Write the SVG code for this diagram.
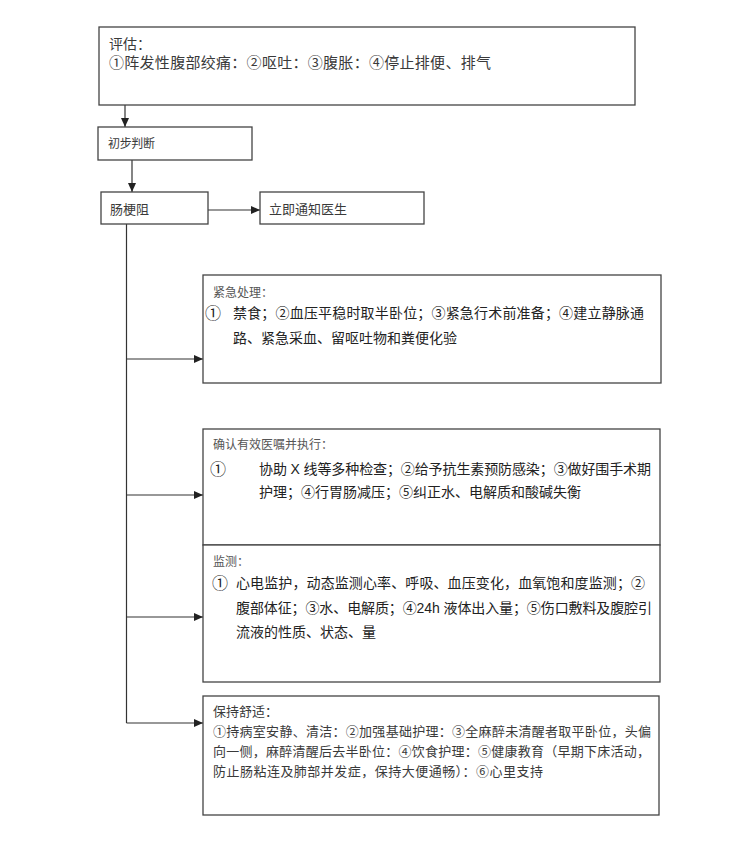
<svg xmlns="http://www.w3.org/2000/svg" width="729" height="841" viewBox="0 0 729 841">
<style>
.box{fill:#fff;stroke:#444;stroke-width:1.3}
.ln{fill:none;stroke:#333;stroke-width:1.2}
.sr{font-family:'Liberation Serif','Noto Sans CJK SC',serif;fill:#3a3a3a}
.ss{font-family:'Liberation Sans','Noto Sans CJK SC',sans-serif;fill:#222}
.t{font-size:12px;fill:#555}
.b{font-size:14px}
.num{font-size:16px}
</style>
<defs>
<marker id="ah" markerUnits="userSpaceOnUse" markerWidth="9" markerHeight="8" refX="9" refY="4" orient="auto">
<path d="M0,0 L9,4 L0,8 z" fill="#222"/>
</marker>
</defs>
<rect width="729" height="841" fill="#fff"/>
<g id="connectors">
<line class="ln" x1="125" y1="105" x2="125" y2="127" marker-end="url(#ah)"/>
<line class="ln" x1="132" y1="160" x2="132" y2="192" marker-end="url(#ah)"/>
<line class="ln" x1="208" y1="210" x2="260" y2="210" marker-end="url(#ah)"/>
<polyline class="ln" points="126.5,224 126.5,723"/>
<line class="ln" x1="126.5" y1="359" x2="203" y2="359" marker-end="url(#ah)"/>
<line class="ln" x1="126.5" y1="495" x2="203" y2="495" marker-end="url(#ah)"/>
<line class="ln" x1="126.5" y1="617" x2="203" y2="617" marker-end="url(#ah)"/>
<line class="ln" x1="126.5" y1="723" x2="203" y2="723" marker-end="url(#ah)"/>
</g>
<g id="assess">
<rect class="box" x="99" y="27" width="536" height="78"/>
<text class="sr" x="109" y="49" font-size="14">评估：</text>
<text class="sr" x="109" y="67.5" font-size="15" textLength="382" lengthAdjust="spacing">①阵发性腹部绞痛：②呕吐：③腹胀：④停止排便、排气</text>
</g>
<g id="judge">
<rect class="box" x="98" y="127" width="154" height="33"/>
<text class="sr" x="108" y="147.5" font-size="12" textLength="47" lengthAdjust="spacing">初步判断</text>
</g>
<g id="obstruction">
<rect class="box" x="101" y="192" width="107" height="32"/>
<text class="sr" x="110" y="214" font-size="13">肠梗阻</text>
</g>
<g id="notify">
<rect class="box" x="260" y="192" width="164" height="32"/>
<text class="sr" x="269" y="214" font-size="13">立即通知医生</text>
</g>
<g id="emergency">
<rect class="box" x="203" y="275" width="458" height="108"/>
<text class="sr t" x="213" y="296.5">紧急处理：</text>
<text class="ss num" x="205" y="318.5">①</text>
<text class="ss b" x="233" y="318" textLength="411" lengthAdjust="spacing">禁食；②血压平稳时取半卧位；③紧急行术前准备；④建立静脉通</text>
<text class="ss b" x="233" y="343">路、紧急采血、留呕吐物和粪便化验</text>
</g>
<g id="orders">
<rect class="box" x="203" y="429" width="457" height="116"/>
<text class="sr t" x="213" y="449">确认有效医嘱并执行：</text>
<text class="ss num" x="210" y="474.5">①</text>
<text class="ss b" x="259" y="474" textLength="392" lengthAdjust="spacing">协助 X 线等多种检查；②给予抗生素预防感染；③做好围手术期</text>
<text class="ss b" x="259" y="497">护理；④行胃肠减压；⑤纠正水、电解质和酸碱失衡</text>
</g>
<g id="monitor">
<rect class="box" x="203" y="545" width="457" height="137"/>
<text class="sr t" x="213" y="566">监测：</text>
<text class="ss num" x="212" y="588.5">①</text>
<text class="ss b" x="236" y="588" textLength="409" lengthAdjust="spacing">心电监护，动态监测心率、呼吸、血压变化，血氧饱和度监测；②</text>
<text class="ss b" x="236" y="613" textLength="416" lengthAdjust="spacing">腹部体征；③水、电解质；④24h 液体出入量；⑤伤口敷料及腹腔引</text>
<text class="ss b" x="236" y="637">流液的性质、状态、量</text>
</g>
<g id="comfort">
<rect class="box" x="203" y="696" width="456" height="119"/>
<text class="sr" x="213" y="716" font-size="13">保持舒适：</text>
<text class="sr" x="213" y="736" font-size="13" textLength="438" lengthAdjust="spacing">①持病室安静、清洁：②加强基础护理：③全麻醉未清醒者取平卧位，头偏</text>
<text class="sr" x="213" y="756" font-size="13" textLength="437" lengthAdjust="spacing">向一侧，麻醉清醒后去半卧位：④饮食护理：⑤健康教育（早期下床活动，</text>
<text class="sr" x="213" y="776" font-size="13" textLength="330" lengthAdjust="spacing">防止肠粘连及肺部并发症，保持大便通畅）：⑥心里支持</text>
</g>
</svg>
